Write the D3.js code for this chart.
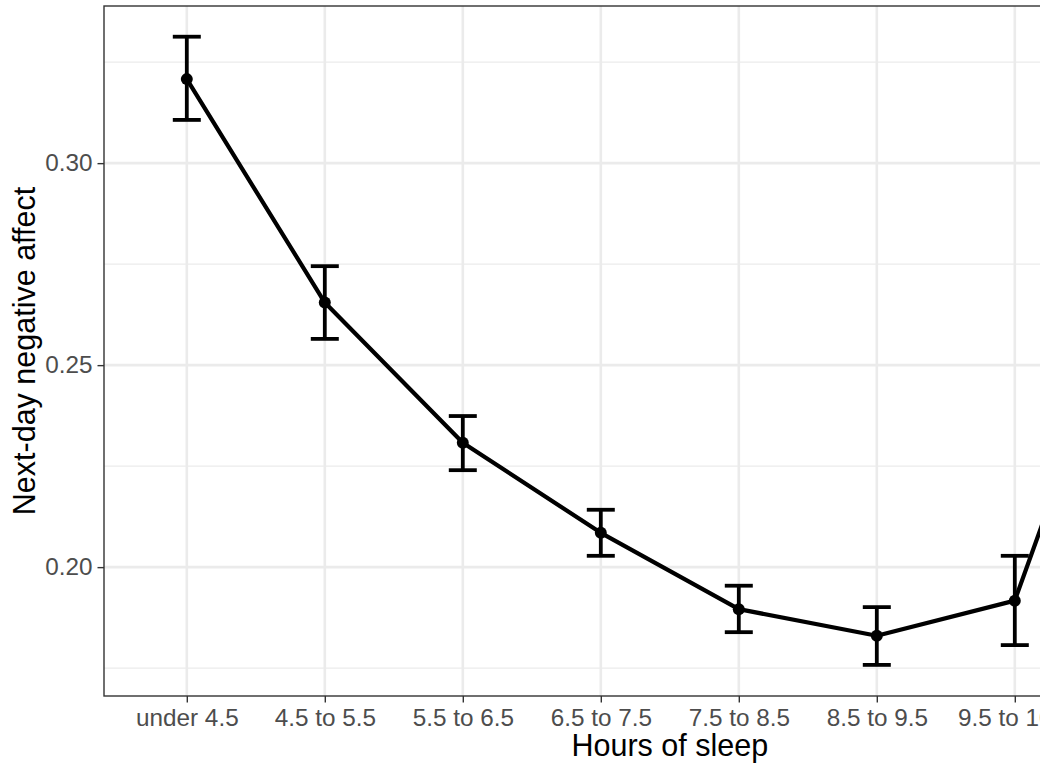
<!DOCTYPE html>
<html>
<head>
<meta charset="utf-8">
<script src="https://cdn.jsdelivr.net/npm/d3@7"></script>
<style>
  body { margin: 0; background: #fff; }
  text { font-family: "Liberation Sans", Arial, sans-serif; }
</style>
</head>
<body>
<svg id="chart"></svg>
<script>
// data
const categories = ["under 4.5", "4.5 to 5.5", "5.5 to 6.5", "6.5 to 7.5", "7.5 to 8.5", "8.5 to 9.5", "9.5 to 10.5", "over 10.5"];
const means = [0.3208, 0.2655, 0.2308, 0.2085, 0.1896, 0.1830, 0.1917, 0.2867];
const upper = [0.3313, 0.2745, 0.2374, 0.2142, 0.1954, 0.1901, 0.2028, 0.2980];
const lower = [0.3107, 0.2565, 0.2240, 0.2028, 0.1839, 0.1758, 0.1807, 0.2750];
const yTicks = [0.20, 0.25, 0.30];
const yMinor = [0.175, 0.225, 0.275, 0.325];

const width = 1050, height = 773;
const panel = { left: 104, top: 6, bottom: 696 };
const step = 138;
panel.right = panel.left + step * (categories.length - 1 + 1.2);
const clipRight = 1040; // the reference is cut off here

const data = categories.map((c, i) => ({ cat: c, mean: means[i], hi: upper[i], lo: lower[i] }));

const svg = d3.select("#chart").attr("width", width).attr("height", height);

svg.append("clipPath").attr("id", "cut")
  .append("rect").attr("x", 0).attr("y", 0).attr("width", clipRight).attr("height", height);
svg.append("clipPath").attr("id", "panelclip")
  .append("rect").attr("x", panel.left).attr("y", panel.top)
  .attr("width", clipRight - panel.left).attr("height", panel.bottom - panel.top);

const g = svg.append("g").attr("clip-path", "url(#cut)");

const x = d3.scalePoint().domain(categories).range([panel.left, panel.right]).padding(0.6);
const y = d3.scaleLinear().domain([0.1681, 0.3389]).range([panel.bottom, panel.top]);

// grid
const grid = g.append("g");
grid.selectAll(".minor").data(yMinor).join("line").attr("class", "minor")
  .attr("x1", panel.left).attr("x2", panel.right)
  .attr("y1", d => y(d)).attr("y2", d => y(d))
  .attr("stroke", "#ebebeb").attr("stroke-width", 1.3);
grid.selectAll(".major").data(yTicks).join("line").attr("class", "major")
  .attr("x1", panel.left).attr("x2", panel.right)
  .attr("y1", d => y(d)).attr("y2", d => y(d))
  .attr("stroke", "#ebebeb").attr("stroke-width", 2.6);
grid.selectAll(".vmajor").data(categories).join("line").attr("class", "vmajor")
  .attr("x1", d => x(d)).attr("x2", d => x(d))
  .attr("y1", panel.top).attr("y2", panel.bottom)
  .attr("stroke", "#ebebeb").attr("stroke-width", 2.6);

// marks
const marks = g.append("g").attr("clip-path", "url(#panelclip)");
const capHalf = 14;
const barW = 3.8;
marks.selectAll(".bar").data(data).join("line").attr("class", "bar")
  .attr("x1", d => x(d.cat)).attr("x2", d => x(d.cat))
  .attr("y1", d => y(d.hi)).attr("y2", d => y(d.lo))
  .attr("stroke", "#000").attr("stroke-width", barW);
marks.selectAll(".capt").data(data).join("line").attr("class", "capt")
  .attr("x1", d => x(d.cat) - capHalf).attr("x2", d => x(d.cat) + capHalf)
  .attr("y1", d => y(d.hi)).attr("y2", d => y(d.hi))
  .attr("stroke", "#000").attr("stroke-width", barW);
marks.selectAll(".capb").data(data).join("line").attr("class", "capb")
  .attr("x1", d => x(d.cat) - capHalf).attr("x2", d => x(d.cat) + capHalf)
  .attr("y1", d => y(d.lo)).attr("y2", d => y(d.lo))
  .attr("stroke", "#000").attr("stroke-width", barW);

const line = d3.line().x(d => x(d.cat)).y(d => y(d.mean));
marks.append("path").datum(data).attr("d", line)
  .attr("fill", "none").attr("stroke", "#000").attr("stroke-width", 4.2)
  .attr("stroke-linejoin", "round");
marks.selectAll(".pt").data(data).join("circle").attr("class", "pt")
  .attr("cx", d => x(d.cat)).attr("cy", d => y(d.mean)).attr("r", 6).attr("fill", "#000");

// panel border
g.append("rect").attr("x", panel.left).attr("y", panel.top)
  .attr("width", panel.right - panel.left).attr("height", panel.bottom - panel.top)
  .attr("fill", "none").attr("stroke", "#333").attr("stroke-width", 1.4);

// axes
const xAxis = g.append("g").attr("transform", `translate(0,${panel.bottom})`)
  .call(d3.axisBottom(x).tickSize(6.5).tickPadding(6));
const yAxis = g.append("g").attr("transform", `translate(${panel.left},0)`)
  .call(d3.axisLeft(y).tickValues(yTicks).tickFormat(d3.format(".2f")).tickSize(6.5).tickPadding(5));
[xAxis, yAxis].forEach(a => {
  a.select(".domain").remove();
  a.selectAll(".tick line").attr("stroke", "#333").attr("stroke-width", 1.4);
  a.selectAll(".tick text").attr("fill", "#4d4d4d").attr("font-size", 24.3)
    .attr("font-family", "'Liberation Sans', Arial, sans-serif");
});

// titles
g.append("text").attr("x", (panel.left + panel.right) / 2).attr("y", 756)
  .attr("text-anchor", "middle").attr("font-size", 30.5).attr("fill", "#000")
  .text("Hours of sleep");
g.append("text")
  .attr("transform", `translate(35,${(panel.top + panel.bottom) / 2}) rotate(-90)`)
  .attr("text-anchor", "middle").attr("font-size", 30.5).attr("fill", "#000")
  .text("Next-day negative affect");
</script>
</body>
</html>
